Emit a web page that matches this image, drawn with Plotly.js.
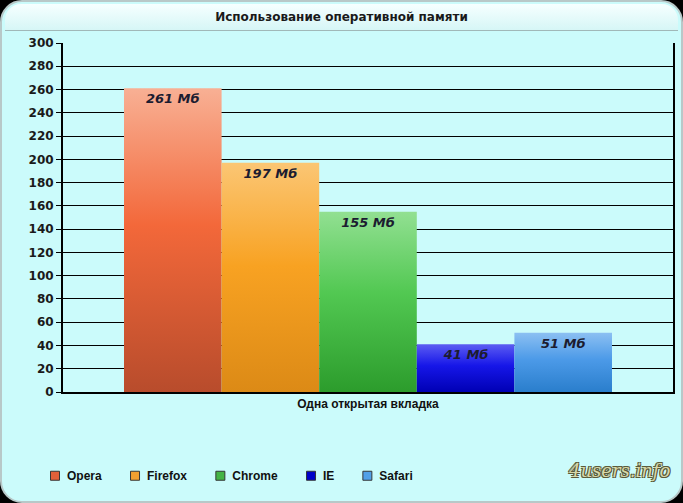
<!DOCTYPE html>
<html>
<head>
<meta charset="utf-8">
<script src="https://cdn.plot.ly/plotly-3.0.1.min.js"></script>
<style>
  html, body { margin:0; padding:0; background:#000; }
  #wrap { position:relative; width:683px; height:503px; border-radius:22px; overflow:hidden;
          background:#cbfbfb; box-sizing:border-box; border:2px solid #b8c8c8; }
  #titlebar { position:absolute; left:3px; top:2px; width:673px; height:26px;
              border-radius:16px 16px 0 0; background:linear-gradient(#f6ffff,#d6f6f6);
              border-bottom:1px solid #a0b8b8; }
  #chart { position:absolute; left:-2px; top:-2px; width:683px; height:503px; }
</style>
</head>
<body>
<div id="wrap"><div id="titlebar"></div><div id="chart"></div></div>
<script>
// ---- data ----
var category = ['Одна открытая вкладка'];
var browsers = ['Opera', 'Firefox', 'Chrome', 'IE', 'Safari'];
var memoryMb = [261, 197, 155, 41, 51];
var yTicks = [0, 20, 40, 60, 80, 100, 120, 140, 160, 180, 200, 220, 240, 260, 280, 300];
var unitLabel = 'Мб';
var chartTitle = 'Использование оперативной памяти';
var watermark = '4users.info';

// ---- styles ----
var legendColors = ['#e2603a', '#f2a030', '#44b444', '#0000c8', '#52a0e8'];
var gradients = [
  [['0', '#f8b094'], ['0.45', '#f3683a'], ['1', '#b84c2c']],
  [['0', '#fbc674'], ['0.45', '#f8a222'], ['1', '#dc8a16']],
  [['0', '#92e092'], ['0.45', '#52c852'], ['1', '#2c9c2c']],
  [['0', '#5c5cf2'], ['0.45', '#1616e8'], ['1', '#0000b4']],
  [['0', '#8cc0f2'], ['0.45', '#4c9ae8'], ['1', '#2a7ecc']]
];

var data = browsers.map(function (name, i) {
  return {
    type: 'bar',
    name: name,
    x: category,
    y: [memoryMb[i]],
    marker: { color: legendColors[i], line: { width: 0 } },
    texttemplate: '%{y} ' + unitLabel,
    textposition: 'inside',
    insidetextanchor: 'end',
    textangle: 0,
    constraintext: 'none',
    textfont: { family: 'DejaVu Sans', size: 13, color: '#1c1c30', weight: 'bold', style: 'italic' },
    hoverinfo: 'skip'
  };
});

var layout = {
  width: 683, height: 503,
  margin: { l: 63, r: 10, t: 43, b: 111 },
  paper_bgcolor: 'rgba(0,0,0,0)',
  plot_bgcolor: 'rgba(0,0,0,0)',
  barmode: 'group',
  bargap: 0.2,
  bargroupgap: 0,
  showlegend: true,
  title: {
    text: chartTitle,
    font: { family: 'DejaVu Sans', size: 12, color: '#1a1a1a', weight: 'bold' },
    x: 0.5, xanchor: 'center', y: 0.966, yref: 'container', yanchor: 'middle'
  },
  xaxis: {
    type: 'category',
    showgrid: false,
    showline: true, linecolor: '#000', linewidth: 2,
    ticks: '',
    tickfont: { family: 'Liberation Sans', size: 12, color: '#111', weight: 'bold' },
    fixedrange: true
  },
  yaxis: {
    range: [0, 300],
    tickvals: yTicks,
    ticktext: yTicks.map(String),
    showgrid: true, gridcolor: '#000', gridwidth: 1,
    showline: true, linecolor: '#000', linewidth: 2, mirror: true,
    ticks: 'outside', ticklen: 5, tickcolor: '#000', tickwidth: 1,
    tickfont: { family: 'DejaVu Sans', size: 12, color: '#1a1a1a', weight: 'bold' },
    zeroline: false,
    fixedrange: true
  },
  legend: {
    orientation: 'h',
    x: -0.059, xanchor: 'left',
    y: -0.24, yanchor: 'middle',
    bgcolor: 'rgba(0,0,0,0)',
    font: { family: 'Liberation Sans', size: 12, color: '#111', weight: 'bold' },
    itemclick: false, itemdoubleclick: false
  },
  annotations: [{
    text: watermark,
    xref: 'paper', yref: 'paper',
    x: 1.0, y: -0.225, xanchor: 'right', yanchor: 'middle',
    showarrow: false,
    font: { family: 'DejaVu Serif', size: 18, color: '#d8d8a8', style: 'italic',
            shadow: '1px 1px 0 #5a5a3a, -1px -1px 0 #5a5a3a, 1px -1px 0 #5a5a3a, -1px 1px 0 #5a5a3a' }
  }]
};

var gd = document.getElementById('chart');
Plotly.newPlot(gd, data, layout, { staticPlot: true, displayModeBar: false }).then(decorate);

function decorate() {
  var ns = 'http://www.w3.org/2000/svg';
  var svg = gd.querySelector('svg.main-svg');
  var defs = svg.querySelector('defs');
  if (!defs) { defs = document.createElementNS(ns, 'defs'); svg.insertBefore(defs, svg.firstChild); }
  gradients.forEach(function (stops, i) {
    var g = document.createElementNS(ns, 'linearGradient');
    g.setAttribute('id', 'barGrad' + i);
    g.setAttribute('x1', '0'); g.setAttribute('y1', '0');
    g.setAttribute('x2', '0'); g.setAttribute('y2', '1');
    stops.forEach(function (s) {
      var st = document.createElementNS(ns, 'stop');
      st.setAttribute('offset', s[0]);
      st.setAttribute('stop-color', s[1]);
      g.appendChild(st);
    });
    defs.appendChild(g);
  });
  gd.querySelectorAll('.barlayer .trace').forEach(function (t, i) {
    t.querySelectorAll('.point path').forEach(function (p) {
      p.style.fill = 'url(#barGrad' + i + ')';
    });
  });
  // legend symbols: smaller squares with a dark edge, closer to their labels
  gd.querySelectorAll('.legend .legendpoints').forEach(function (lp) {
    lp.setAttribute('transform', 'translate(13,0) scale(0.75)');
    lp.querySelectorAll('path').forEach(function (p) {
      p.style.stroke = '#333';
      p.style.strokeWidth = '1.3px';
    });
  });
}
</script>
</body>
</html>
